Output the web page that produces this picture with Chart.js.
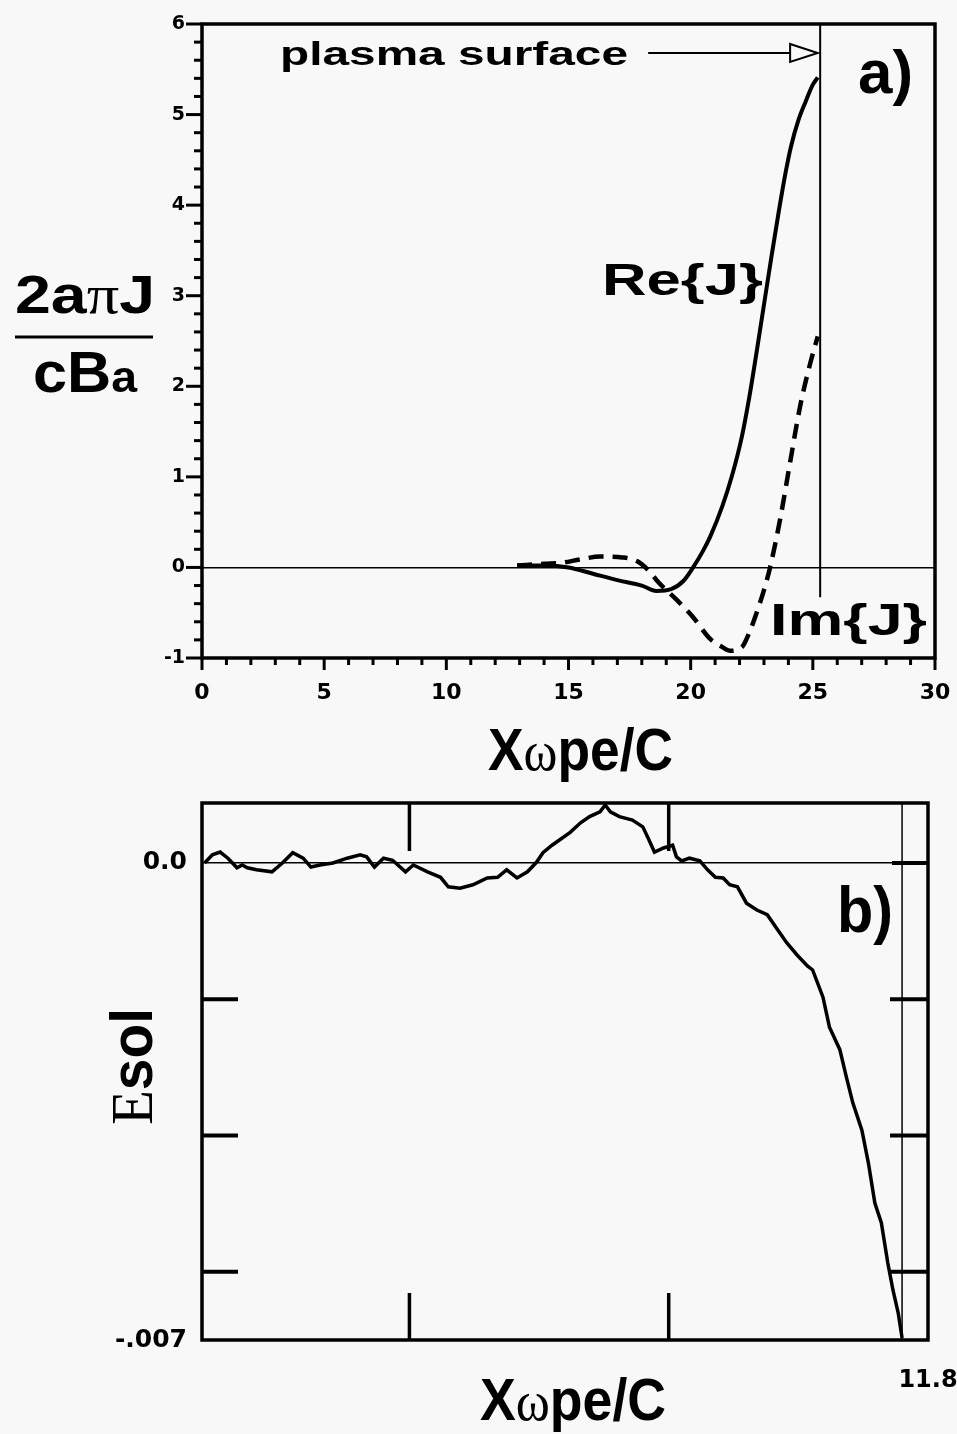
<!DOCTYPE html>
<html>
<head>
<meta charset="utf-8">
<script src="https://cdn.jsdelivr.net/npm/chart.js@4.4.1/dist/chart.umd.min.js"></script>
<style>
  html, body { margin: 0; padding: 0; background: #f8f8f8; }
  body { width: 957px; height: 1434px; position: relative; overflow: hidden; }
  canvas { position: absolute; left: 0; }
  #top-chart { top: 0; }
  #bottom-chart { top: 780px; }
</style>
</head>
<body>
<canvas id="top-chart" width="957" height="790"></canvas>
<canvas id="bottom-chart" width="957" height="654"></canvas>
<script>
// panel a) : Re{J} and Im{J} vs x*wpe/c
const reX = [12.9, 14.0, 15.0, 16.0, 17.0, 18.0, 18.6, 19.2, 19.7, 20.1, 20.5, 20.8, 21.3, 21.7, 22.1, 22.4, 22.7, 23.0, 23.3, 23.6, 23.9, 24.1, 24.4, 24.7, 25.0, 25.2];
const reY = [0.02, 0.02, 0.0, -0.07, -0.14, -0.2, -0.26, -0.24, -0.15, 0.0, 0.18, 0.34, 0.68, 1.02, 1.45, 1.88, 2.38, 2.9, 3.42, 3.92, 4.38, 4.64, 4.93, 5.14, 5.33, 5.41];
const imX = [12.9, 14.0, 14.7, 15.5, 16.3, 17.2, 17.8, 18.3, 18.7, 19.4, 20.1, 20.8, 21.3, 21.6, 22.1, 22.4, 22.7, 23.0, 23.25, 23.66, 24.07, 24.48, 24.9, 25.2];
const imY = [0.02, 0.04, 0.05, 0.09, 0.12, 0.11, 0.07, -0.04, -0.17, -0.35, -0.55, -0.79, -0.88, -0.92, -0.88, -0.72, -0.5, -0.25, 0.0, 0.53, 1.16, 1.78, 2.26, 2.55];
const surfaceX = 25.3;
const surfaceY = [-0.33, 6];
const arrowX = [18.26, 24.07, 25.2];   // tail, head base, tip
const arrowY = 5.68;
const topXRange = [0, 30];
const topYRange = [-1, 6];

// panel b) : Esol (in units of 1e-3) vs x*wpe/c
const esX = [9.01, 9.04, 9.07, 9.10, 9.135, 9.155, 9.175, 9.21, 9.27, 9.31, 9.35, 9.39, 9.42, 9.455, 9.505, 9.56, 9.61, 9.635, 9.665, 9.70,
  9.735, 9.785, 9.815, 9.87, 9.92, 9.95, 9.995, 10.045, 10.10, 10.14, 10.175, 10.215, 10.255, 10.29, 10.315, 10.35, 10.38, 10.42, 10.46, 10.495,
  10.535, 10.555, 10.575, 10.61, 10.66, 10.70, 10.72, 10.745, 10.78, 10.815, 10.83, 10.85, 10.88, 10.92, 10.95, 10.98, 11.01, 11.035, 11.065, 11.10,
  11.14, 11.18, 11.22, 11.255, 11.295, 11.335, 11.355, 11.395, 11.42, 11.46, 11.485, 11.51, 11.545, 11.57, 11.595, 11.62, 11.645, 11.665, 11.685, 11.70];
const esY = [0.0, 0.12, 0.16, 0.07, -0.07, -0.03, -0.07, -0.10, -0.13, 0.0, 0.15, 0.07, -0.06, -0.03, 0.0, 0.07, 0.12, 0.09, -0.06, 0.07,
  0.04, -0.13, -0.03, -0.13, -0.21, -0.35, -0.37, -0.32, -0.22, -0.21, -0.10, -0.22, -0.13, 0.01, 0.15, 0.26, 0.34, 0.45, 0.59, 0.68,
  0.75, 0.85, 0.75, 0.68, 0.63, 0.53, 0.37, 0.16, 0.22, 0.26, 0.09, 0.03, 0.07, 0.03, -0.10, -0.21, -0.22, -0.32, -0.35, -0.59,
  -0.69, -0.76, -0.98, -1.17, -1.35, -1.51, -1.57, -1.97, -2.41, -2.74, -3.14, -3.52, -3.92, -4.40, -4.99, -5.28, -5.87, -6.27, -6.60, -6.97];
const wallX = 11.7;
const botXRange = [9.0, 11.8];
const botYRange = [-7, 0.88];
const botXTicks = [9.8, 10.8];
const botYTicks = [-6, -4, -2];
const botYLabels = [[0, '0.0'], [-7, '-.007']];
const botXLabel = [11.8, '11.8'];

const SANS = '"Liberation Sans", Arial, sans-serif';
const SERIF = '"Liberation Serif", "DejaVu Serif", serif';
Chart.defaults.color = '#000';
Chart.defaults.font.family = '"DejaVu Sans", sans-serif';

const pts = (xs, ys) => xs.map((x, i) => ({x: x, y: ys[i]}));

function seg(ctx, x1, y1, x2, y2, w) {
  ctx.lineWidth = w;
  ctx.beginPath(); ctx.moveTo(x1, y1); ctx.lineTo(x2, y2); ctx.stroke();
}

// draws a row of text pieces, squeezed/stretched to the given width
function runs(ctx, parts, x, y, width) {
  let total = 0;
  parts.forEach(p => { ctx.font = p[1]; total += ctx.measureText(p[0]).width; });
  const k = width ? width / total : 1;
  ctx.save();
  ctx.translate(x, y); ctx.scale(k, 1);
  ctx.textAlign = 'left'; ctx.textBaseline = 'alphabetic'; ctx.fillStyle = '#000';
  let cx = 0;
  parts.forEach(p => { ctx.font = p[1]; ctx.fillText(p[0], cx, 0); cx += ctx.measureText(p[0]).width; });
  ctx.restore();
}

const xTitle = [['X', 'bold 60px ' + SANS], ['\u03C9', '58px ' + SERIF], ['pe/C', 'bold 60px ' + SANS]];

// keep the plot box where it is: no extra room for edge tick labels
function fixX(h) {
  return s => { s.height = h; s.paddingLeft = 0; s.paddingRight = 0; };
}

const topDeco = {
  id: 'topDeco',
  afterDraw(chart) {
    const {ctx, chartArea: a, scales: {x, y}} = chart;
    ctx.save();
    ctx.strokeStyle = '#000';
    for (let i = 0; i <= (topYRange[1] - topYRange[0]) * 5; i++) {
      const v = topYRange[0] + i / 5;
      const py = y.getPixelForValue(v);
      seg(ctx, a.left - (i % 5 ? 8 : 16), py, a.left, py, 3);
    }
    for (let v = topXRange[0]; v <= topXRange[1]; v++) {
      const px = x.getPixelForValue(v);
      seg(ctx, px, a.bottom, px, a.bottom + (v % 5 ? 7 : 12), 3);
    }
    ctx.lineWidth = 3.5;
    ctx.strokeRect(a.left, a.top, a.right - a.left, a.bottom - a.top);

    // open arrow head
    const bx = x.getPixelForValue(arrowX[1]), tx = x.getPixelForValue(arrowX[2]), ay = y.getPixelForValue(arrowY);
    ctx.beginPath();
    ctx.moveTo(bx, ay - 9); ctx.lineTo(tx, ay); ctx.lineTo(bx, ay + 9); ctx.closePath();
    ctx.fillStyle = '#f8f8f8'; ctx.fill();
    ctx.lineWidth = 2; ctx.stroke();

    runs(ctx, [['plasma surface', 'bold 34px ' + SANS]], 280, 65, 348);
    runs(ctx, [['a)', 'bold 62px ' + SANS]], 858, 93, 55);
    runs(ctx, [['Re{J}', 'bold 44px ' + SANS]], 602, 295, 161);
    runs(ctx, [['Im{J}', 'bold 44px ' + SANS]], 770, 635, 157);

    runs(ctx, [['2a', 'bold 54px ' + SANS], ['\u03C0', '54px ' + SERIF], ['J', 'bold 54px ' + SANS]], 15, 313, 140);
    seg(ctx, 15, 337, 153, 337, 3);
    runs(ctx, [['cB', 'bold 58px ' + SANS], ['a', 'bold 44px ' + SANS]], 33, 392, 104);

    runs(ctx, xTitle, 488, 770, 185);
    ctx.restore();
  }
};

const botDeco = {
  id: 'botDeco',
  afterDraw(chart) {
    const {ctx, chartArea: a, scales: {x, y}} = chart;
    ctx.save();
    ctx.strokeStyle = '#000';
    botYTicks.forEach(v => {
      const py = y.getPixelForValue(v);
      seg(ctx, a.left, py, a.left + 36, py, 4);
      seg(ctx, a.right - 38, py, a.right, py, 4);
    });
    const zy = y.getPixelForValue(0);
    seg(ctx, a.right - 36, zy, a.right, zy, 4);
    botXTicks.forEach(v => {
      const px = x.getPixelForValue(v);
      seg(ctx, px, a.top, px, a.top + 48, 3.5);
      seg(ctx, px, a.bottom, px, a.bottom - 47, 3.5);
    });
    ctx.lineWidth = 3.5;
    ctx.strokeRect(a.left, a.top, a.right - a.left, a.bottom - a.top);

    ctx.font = 'bold 24px "DejaVu Sans"';
    ctx.fillStyle = '#000'; ctx.textAlign = 'center'; ctx.textBaseline = 'top';
    ctx.fillText(botXLabel[1], x.getPixelForValue(botXLabel[0]), a.bottom + 29);

    runs(ctx, [['b)', 'bold 64px ' + SANS]], 837, 152, 56);

    ctx.save();
    ctx.translate(152, 345); ctx.rotate(-Math.PI / 2);
    runs(ctx, [['E', '60px ' + SERIF], ['sol', 'bold 60px ' + SANS]], 0, 0, 117);
    ctx.restore();

    runs(ctx, xTitle, 480, 640, 186);
    ctx.restore();
  }
};

const zeroGrid = c => (c.tick && c.tick.value === 0 ? '#000' : 'rgba(0,0,0,0)');

new Chart(document.getElementById('top-chart'), {
  type: 'line',
  data: { datasets: [
    { data: pts(reX, reY), borderColor: '#000', borderWidth: 4, pointRadius: 0, cubicInterpolationMode: 'monotone' },
    { data: pts(imX, imY), borderColor: '#000', borderWidth: 4.5, borderDash: [15, 9], pointRadius: 0, cubicInterpolationMode: 'monotone' },
    { data: pts([surfaceX, surfaceX], surfaceY), borderColor: '#000', borderWidth: 2, pointRadius: 0 },
    { data: pts([arrowX[0], arrowX[1]], [arrowY, arrowY]), borderColor: '#000', borderWidth: 2, pointRadius: 0 }
  ]},
  options: {
    responsive: false, animation: false, events: [],
    layout: { padding: { top: 24, right: 22, left: 0, bottom: 0 } },
    plugins: { legend: { display: false }, tooltip: { enabled: false } },
    scales: {
      x: { type: 'linear', min: topXRange[0], max: topXRange[1],
           afterFit: fixX(790 - 658),
           border: { display: false }, grid: { display: false, drawTicks: false },
           ticks: { stepSize: 5, padding: 22, maxRotation: 0, font: { size: 22, weight: 'bold' } } },
      y: { type: 'linear', min: topYRange[0], max: topYRange[1],
           afterFit: s => { s.width = 202; s.paddingTop = 0; s.paddingBottom = 0; },
           border: { display: false }, grid: { drawTicks: false, color: zeroGrid, lineWidth: 1.5 },
           ticks: { stepSize: 1, padding: 17, font: { size: 19, weight: 'bold' } } }
    }
  },
  plugins: [topDeco]
});

new Chart(document.getElementById('bottom-chart'), {
  type: 'line',
  data: { datasets: [
    { data: pts(esX, esY), borderColor: '#000', borderWidth: 3.5, pointRadius: 0, tension: 0 },
    { data: pts([wallX, wallX], botYRange), borderColor: '#000', borderWidth: 1.5, pointRadius: 0 }
  ]},
  options: {
    responsive: false, animation: false, events: [],
    layout: { padding: { top: 23, right: 29, left: 0, bottom: 0 } },
    plugins: { legend: { display: false }, tooltip: { enabled: false } },
    scales: {
      x: { type: 'linear', min: botXRange[0], max: botXRange[1],
           afterFit: fixX(654 - 560),
           border: { display: false }, grid: { display: false, drawTicks: false },
           ticks: { display: false } },
      y: { type: 'linear', min: botYRange[0], max: botYRange[1],
           afterFit: s => { s.width = 202; s.paddingTop = 0; s.paddingBottom = 0; },
           afterBuildTicks: s => { s.ticks = botYLabels.map(t => ({ value: t[0] })); },
           border: { display: false }, grid: { drawTicks: false, color: zeroGrid, lineWidth: 1.5 },
           ticks: { padding: 15, font: { size: 25, weight: 'bold' },
                    callback: v => (botYLabels.find(t => t[0] === v) || [0, ''])[1] } }
    }
  },
  plugins: [botDeco]
});
</script>
</body>
</html>
